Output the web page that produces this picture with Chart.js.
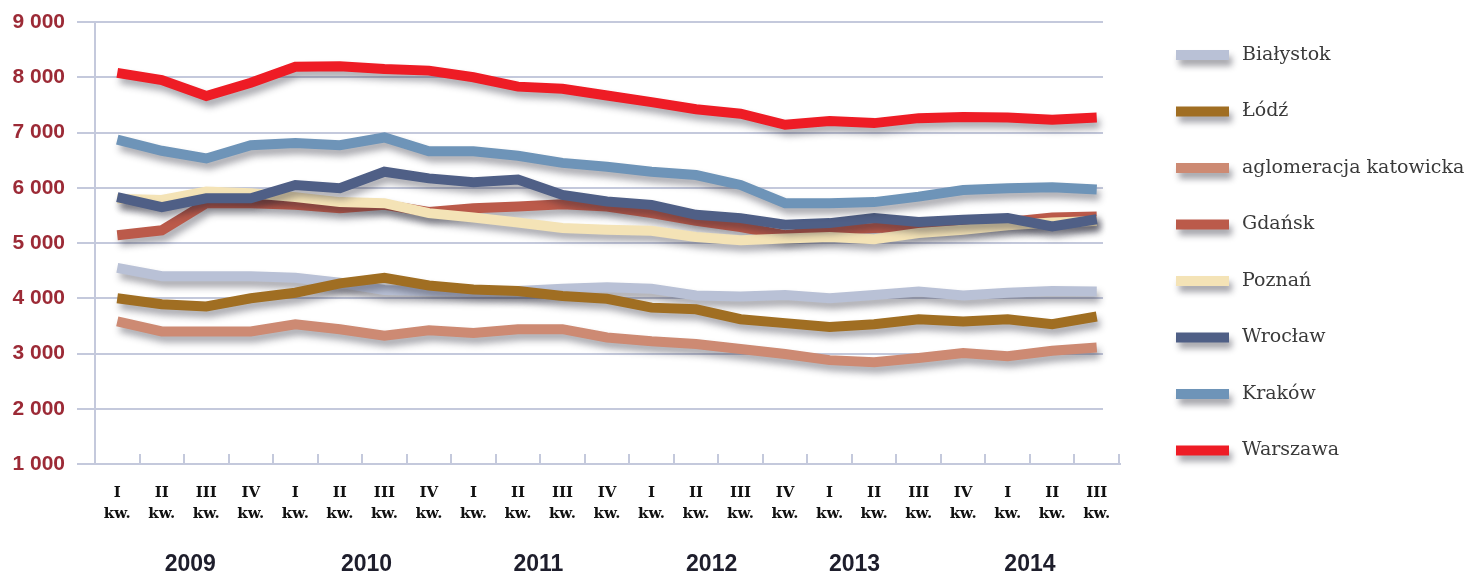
<!DOCTYPE html>
<html><head><meta charset="utf-8">
<script src="https://cdn.jsdelivr.net/npm/chart.js@4.4.1/dist/chart.umd.min.js"></script>
<style>html,body{margin:0;padding:0;background:#fff;}#wrap{width:1470px;height:576px;}</style>
</head><body><div id="wrap"><canvas id="c" width="1470" height="576"></canvas></div>
<script>
const quarters = ['I','II','III','IV','I','II','III','IV','I','II','III','IV','I','II','III','IV','I','II','III','IV','I','II','III'];
const years = ['2009','2010','2011','2012','2013','2014'];
const seriesNames = ['Białystok','Łódź','aglomeracja katowicka','Gdańsk','Poznań','Wrocław','Kraków','Warszawa'];
const bialystok = [4550,4400,4400,4400,4370,4280,4150,4130,4120,4130,4170,4200,4170,4050,4030,4060,4000,4060,4120,4050,4100,4130,4120];
const lodz      = [4000,3890,3850,4000,4100,4270,4370,4230,4160,4130,4040,3990,3830,3800,3620,3550,3480,3530,3620,3580,3620,3530,3670];
const katowice  = [3580,3400,3400,3400,3530,3440,3320,3420,3370,3440,3440,3290,3220,3170,3080,2990,2880,2840,2920,3010,2950,3050,3110];
const gdansk    = [5140,5230,5720,5720,5690,5630,5690,5560,5630,5660,5700,5660,5540,5400,5290,5140,5230,5270,5290,5330,5380,5460,5480];
const poznan    = [5800,5780,5930,5900,5830,5740,5720,5540,5460,5370,5270,5240,5220,5110,5050,5080,5110,5070,5180,5240,5320,5370,5400];
const wroclaw   = [5830,5650,5810,5810,6050,5990,6290,6170,6100,6150,5870,5750,5690,5510,5450,5330,5360,5450,5380,5420,5450,5300,5430];
const krakow    = [6870,6670,6530,6770,6810,6770,6910,6660,6660,6580,6450,6380,6290,6230,6050,5720,5720,5740,5840,5960,5990,6010,5970];
const warszawa  = [8080,7950,7660,7900,8190,8200,8150,8120,8000,7830,7790,7670,7550,7420,7340,7140,7210,7170,7260,7280,7270,7230,7270];
const yTickMin = 1000, yTickMax = 9000, yTickStep = 1000;

const seriesValues = [bialystok, lodz, katowice, gdansk, poznan, wroclaw, krakow, warszawa];
const seriesColors = ['#b9c1d6','#a06e22','#cd8a73','#bb5a4a','#f4e3b6','#4f5f86','#6e94b8','#ee1c25'];
const labels = quarters.map(q => [q, 'kw.']);

const GRID = '#c4c9dc';
const decoPlugin = {
  id: 'deco',
  beforeDatasetsDraw(chart) {
    const {ctx, scales: {x, y}, chartArea: a} = chart;
    ctx.save();
    ctx.strokeStyle = GRID;
    ctx.lineWidth = 2;
    ctx.beginPath();
    for (let v = yTickMin + yTickStep; v <= yTickMax; v += yTickStep) {
      const py = Math.round(y.getPixelForValue(v));
      ctx.moveTo(a.left - 18, py);
      ctx.lineTo(a.right - 16, py);
    }
    ctx.moveTo(a.left, a.top);
    ctx.lineTo(a.left, a.bottom);
    const by = Math.round(y.getPixelForValue(yTickMin));
    ctx.moveTo(a.left - 18, by);
    ctx.lineTo(a.right + 2, by);
    const n = chart.data.labels.length;
    for (let i = 0; i <= n; i++) {
      const px = Math.round(x.getPixelForValue(i - 0.5));
      ctx.moveTo(px, by);
      ctx.lineTo(px, by - 10);
    }
    ctx.stroke();
    ctx.restore();
  },
  beforeDatasetDraw(chart) {
    const c = chart.ctx;
    c.save();
    c.shadowColor = 'rgba(30,30,45,0.38)';
    c.shadowBlur = 7;
    c.shadowOffsetX = 3;
    c.shadowOffsetY = 6;
  },
  afterDatasetDraw(chart) {
    chart.ctx.restore();
  },
  afterDraw(chart) {
    const {ctx, scales: {x}} = chart;
    const yearPos = [1.64, 5.6, 9.46, 13.35, 16.56, 20.5];
    ctx.save();
    ctx.fillStyle = '#1e1e2c';
    ctx.font = 'bold 23px "Liberation Sans", Arial, sans-serif';
    ctx.textAlign = 'center';
    ctx.textBaseline = 'middle';
    years.forEach((yr, i) => ctx.fillText(yr, x.getPixelForValue(yearPos[i]), 565));
    ctx.restore();
    chart.data.datasets.forEach((ds, i) => {
      const cy = 55 + i * 56.5;
      ctx.save();
      ctx.shadowColor = 'rgba(30,30,45,0.4)';
      ctx.shadowBlur = 6;
      ctx.shadowOffsetX = 3;
      ctx.shadowOffsetY = 6;
      ctx.fillStyle = ds.borderColor;
      ctx.fillRect(1176, cy - 5, 53, 10);
      ctx.restore();
      ctx.save();
      ctx.fillStyle = '#3a3a3a';
      ctx.font = '19px "DejaVu Serif", serif';
      ctx.textAlign = 'left';
      ctx.textBaseline = 'middle';
      ctx.fillText(ds.label, 1242, cy);
      ctx.restore();
    });
  }
};

new Chart(document.getElementById('c'), {
  type: 'line',
  data: {
    labels: labels,
    datasets: seriesNames.map((name, i) => ({
      label: name,
      data: seriesValues[i],
      borderColor: seriesColors[i],
      backgroundColor: seriesColors[i],
      borderWidth: 10,
      pointRadius: 0,
      pointHoverRadius: 0,
      tension: 0,
      fill: false,
      clip: false,
      borderCapStyle: 'butt',
      borderJoinStyle: 'miter',
      order: seriesNames.length - 1 - i
    }))
  },
  options: {
    responsive: false,
    animation: false,
    devicePixelRatio: 1,
    layout: {padding: {top: 22, right: 351, bottom: 0, left: 0}},
    plugins: {legend: {display: false}, tooltip: {enabled: false}},
    scales: {
      x: {
        type: 'category',
        offset: true,
        grid: {display: false, drawTicks: false, tickLength: 0},
        border: {display: false},
        ticks: {
          padding: 19,
          autoSkip: false,
          maxRotation: 0,
          minRotation: 0,
          color: '#111',
          font: {family: '"DejaVu Serif", serif', weight: 'bold', size: 15, lineHeight: 1.4}
        },
        afterFit(s) { s.height = 112; }
      },
      y: {
        min: yTickMin,
        max: yTickMax,
        grid: {display: false, drawTicks: true, tickLength: 30},
        border: {display: false},
        ticks: {
          stepSize: yTickStep,
          padding: 0,
          color: '#9c2a36',
          font: {family: '"Liberation Sans", Arial, sans-serif', weight: 'bold', size: 21},
          callback: v => String(v).replace(/\B(?=(\d{3})+(?!\d))/g, ' ')
        },
        afterFit(s) { s.width = 95; }
      }
    }
  },
  plugins: [decoPlugin]
});
</script>
</body></html>
